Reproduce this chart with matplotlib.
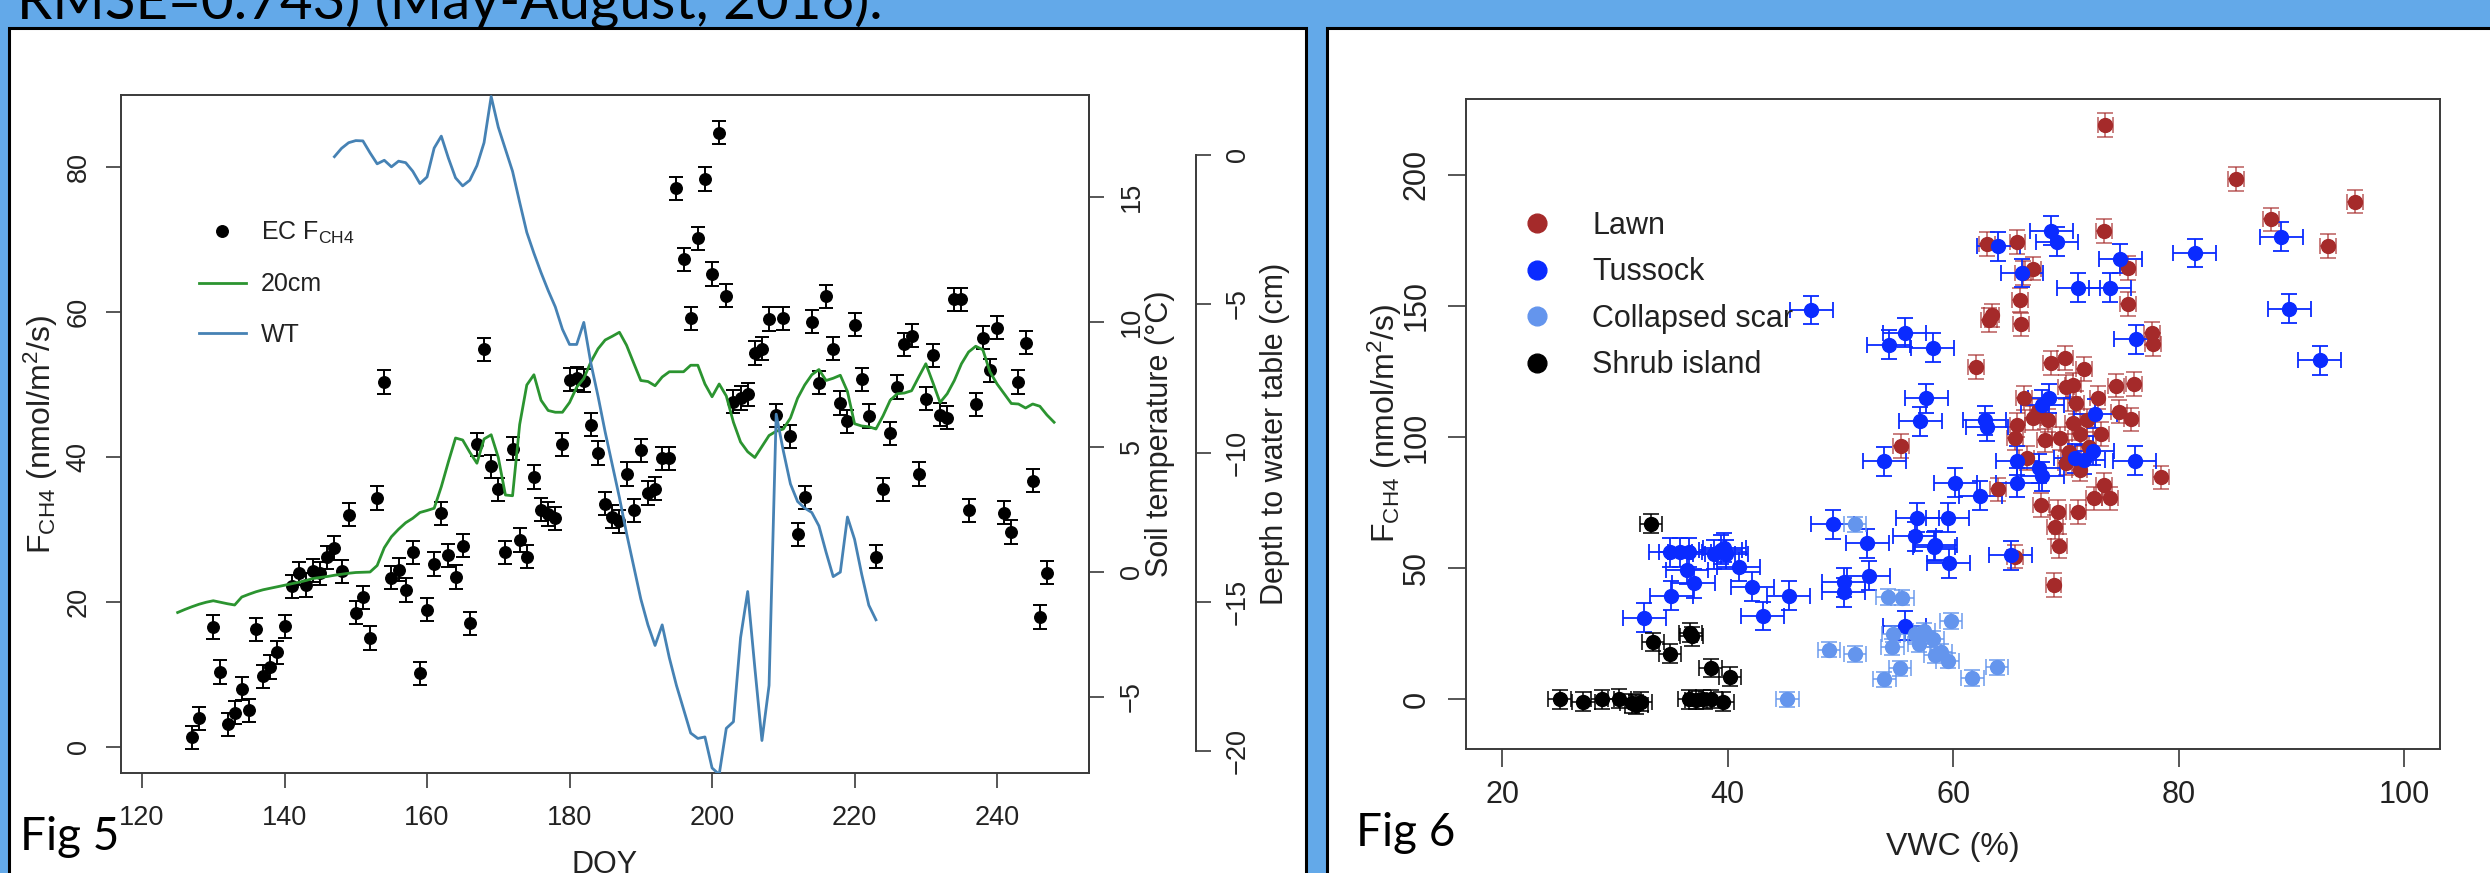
import matplotlib
matplotlib.use('Agg')
import matplotlib.pyplot as plt
from matplotlib.patches import Rectangle
from matplotlib.lines import Line2D

plt.rcParams['font.family'] = ['Liberation Sans', 'DejaVu Sans']
plt.rcParams['mathtext.fontset'] = 'custom'
plt.rcParams['mathtext.rm'] = 'Liberation Sans'
plt.rcParams['mathtext.it'] = 'Liberation Sans:italic'
plt.rcParams['mathtext.bf'] = 'Liberation Sans:bold'

# ---------------- Fig 5 data ----------------
doy = [127, 128, 130, 131, 132, 133, 134, 135, 136, 137, 138, 139, 140, 141, 142, 143,
       144, 145, 146, 147, 148, 149, 150, 151, 152, 153, 154, 155, 156, 157, 158, 159,
       160, 161, 162, 163, 164, 165, 166, 167, 168, 169, 170, 171, 172, 173, 174, 175,
       176, 177, 178, 179, 180, 181, 182, 183, 184, 185, 186, 187, 188, 189, 190, 191,
       192, 193, 194, 195, 196, 197, 198, 199, 200, 201, 202, 203, 204, 205, 206, 207,
       208, 209, 210, 211, 212, 213, 214, 215, 216, 217, 218, 219, 220, 221, 222, 223,
       224, 225, 226, 227, 228, 229, 230, 231, 232, 233, 234, 235, 236, 237, 238, 239,
       240, 241, 242, 243, 244, 245, 246, 247]
fch4 = [1.3, 3.9, 16.5, 10.3, 3.1, 4.7, 8.0, 5.0, 16.2, 9.7, 11.0, 13.0, 16.6, 22.1, 23.9, 22.3,
        24.3, 23.9, 26.1, 27.4, 24.2, 32.0, 18.5, 20.6, 15.0, 34.3, 50.3, 23.3, 24.4, 21.6, 26.8, 10.1,
        18.9, 25.2, 32.2, 26.4, 23.4, 27.7, 17.0, 41.7, 54.8, 38.7, 35.5, 26.8, 41.1, 28.5, 26.2, 37.2,
        32.7, 32.1, 31.5, 41.7, 50.6, 50.8, 50.5, 44.4, 40.5, 33.5, 31.7, 31.1, 37.6, 32.6, 40.9, 35.0,
        35.6, 39.8, 39.8, 77.0, 67.2, 59.1, 70.1, 78.3, 65.2, 84.7, 62.2, 47.6, 48.1, 48.6, 54.3, 54.9,
        59.0, 45.7, 59.1, 42.8, 29.3, 34.4, 58.6, 50.2, 62.1, 54.9, 47.4, 44.9, 58.2, 50.7, 45.6, 26.2,
        35.5, 43.2, 49.6, 55.5, 56.7, 37.6, 48.0, 54.0, 45.8, 45.4, 61.7, 61.7, 32.6, 47.2, 56.4, 51.9,
        57.8, 32.3, 29.6, 50.3, 55.7, 36.7, 17.9, 24.0]
fch4_err = 1.6

temp_doy = list(range(125, 249))
temp20 = [-1.63, -1.51, -1.40, -1.30, -1.22, -1.16, -1.22, -1.28, -1.33, -1.01, -0.90, -0.80,
          -0.72, -0.66, -0.60, -0.54, -0.48, -0.42, -0.35, -0.27, -0.23, -0.19, -0.14, -0.10,
          -0.06, -0.03, -0.02, -0.01, 0.25, 0.96, 1.40, 1.70, 1.96, 2.14, 2.37, 2.45,
          2.54, 3.40, 4.40, 5.35, 5.27, 4.78, 4.34, 5.31, 5.48, 4.57, 3.07, 3.04,
          5.89, 7.47, 7.88, 6.86, 6.45, 6.38, 6.38, 6.77, 7.38, 7.73, 8.40, 8.92,
          9.27, 9.42, 9.58, 9.06, 8.35, 7.65, 7.61, 7.44, 7.79, 8.00, 8.00, 8.00,
          8.26, 8.26, 7.51, 7.00, 7.51, 7.03, 5.98, 5.19, 4.80, 4.57, 5.01, 5.45,
          5.62, 5.71, 6.15, 6.94, 7.47, 7.88, 8.09, 7.65, 7.74, 7.86, 7.21, 5.92,
          5.83, 5.80, 5.71, 6.24, 6.86, 7.12, 7.15, 7.24, 7.79, 8.32, 7.56, 6.77,
          7.12, 7.65, 8.32, 8.79, 9.02, 8.88, 8.00, 7.51, 7.12, 6.73, 6.71, 6.55,
          6.71, 6.62, 6.27, 5.98]

wt_doy = list(range(147, 224))
wt = [-0.06, 0.22, 0.41, 0.48, 0.47, 0.07, -0.30, -0.18, -0.40, -0.21, -0.26, -0.55,
      -0.96, -0.74, 0.23, 0.63, -0.11, -0.77, -1.04, -0.85, -0.36, 0.41, 1.96, 0.93,
      0.19, -0.55, -1.59, -2.60, -3.30, -3.95, -4.55, -5.10, -5.85, -6.36, -6.36, -5.62,
      -7.00, -8.10, -9.30, -10.40, -11.50, -12.70, -13.80, -14.90, -15.77, -16.46, -15.77, -16.87,
      -17.80, -18.60, -19.40, -19.58, -19.53, -20.57, -20.79, -19.24, -19.02, -16.20, -14.65, -17.20,
      -19.65, -17.80, -8.70, -9.93, -11.04, -11.63, -11.85, -12.00, -12.45, -13.33, -14.15, -14.00,
      -12.15, -12.90, -14.07, -15.11, -15.60]

x5_ticks = [120, 140, 160, 180, 200, 220, 240]
f5_ticks = [0, 20, 40, 60, 80]
t_ticks = [-5, 0, 5, 10, 15]
wt_ticks = [-20, -15, -10, -5, 0]

# ---------------- Fig 6 data ----------------
lawn_vwc = [55.4, 63.0, 65.7, 73.4, 67.1, 66.2, 75.5, 75.5, 65.9, 63.4, 63.2, 66.0, 77.6, 77.7,
            62.0, 68.7, 69.9, 71.6, 70.6, 74.4, 76.0, 66.3, 74.7, 75.8, 65.7, 68.4, 70.6, 71.9,
            69.5, 65.5, 68.1, 71.2, 73.1, 70.3, 64.0, 71.2, 73.4, 73.9, 72.5, 67.8, 69.3, 71.1,
            69.0, 69.4, 65.5, 68.9, 78.4, 67.1, 70.0, 70.9, 73.5, 85.1, 88.2, 95.6, 93.2, 72.0,
            70.0, 66.5, 67.5, 72.8]
lawn_f = [96.5, 173.5, 174.4, 178.6, 164.2, 162.5, 164.5, 150.6, 152.3, 146.3, 144.6, 142.9, 139.5, 135.3,
          126.7, 128.1, 130.1, 125.9, 119.9, 119.6, 120.3, 114.8, 109.7, 106.7, 104.6, 106.3, 105.5, 106.3,
          99.5, 99.5, 98.7, 101.2, 101.2, 94.4, 80.0, 87.6, 81.7, 76.6, 76.6, 74.0, 71.5, 71.5,
          65.8, 58.4, 54.4, 43.7, 84.6, 107.2, 119.1, 113.1, 219.0, 198.2, 182.9, 189.7, 172.7, 96.0,
          90.0, 92.0, 110.0, 115.0]

tus_vwc = [32.6, 35.0, 34.9, 35.8, 36.6, 36.4, 37.0, 38.8, 39.4, 39.9, 39.7, 41.0, 42.2, 43.1,
           45.4, 47.4, 49.3, 50.3, 50.3, 52.4, 52.5, 53.9, 54.3, 55.7, 58.2, 57.6, 57.1, 56.8,
           56.6, 58.3, 55.7, 64.0, 66.1, 68.7, 69.2, 71.1, 73.9, 74.8, 81.4, 89.1, 89.8, 92.5,
           76.2, 68.5, 67.9, 72.6, 62.8, 63.0, 65.7, 67.6, 67.9, 70.8, 71.6, 72.4, 65.7, 76.1,
           60.2, 62.4, 59.5, 58.4, 59.6, 65.1]
tus_f = [31.1, 39.5, 56.1, 56.1, 56.1, 49.3, 44.2, 55.3, 57.0, 55.3, 57.8, 50.5, 43.0, 31.8,
         39.5, 148.4, 66.7, 44.6, 40.8, 59.5, 47.1, 90.7, 135.2, 139.8, 134.1, 114.8, 106.0, 69.2,
         62.1, 58.2, 28.1, 172.7, 162.5, 178.6, 174.4, 156.9, 156.9, 167.9, 170.1, 176.4, 148.9, 129.3,
         137.3, 114.8, 112.3, 108.9, 106.3, 103.8, 91.0, 88.0, 85.1, 91.9, 91.4, 94.8, 82.5, 91.0,
         82.5, 77.7, 69.2, 58.7, 51.9, 54.9]

scar_vwc = [45.3, 49.0, 51.3, 51.3, 53.9, 54.2, 55.5, 54.6, 54.7, 55.3, 56.6, 57.4, 58.2, 58.9,
            58.4, 59.5, 59.8, 61.7, 63.9, 57.0]
scar_f = [0.0, 19.0, 17.3, 66.7, 7.6, 39.1, 38.8, 19.9, 25.0, 11.8, 25.0, 26.0, 23.0, 18.2,
          17.0, 14.8, 29.8, 8.3, 12.2, 21.0]

shrub_vwc = [25.1, 27.2, 28.9, 30.4, 31.5, 31.9, 32.3, 33.2, 33.4, 34.9, 36.7, 36.8, 36.6, 37.2,
             37.8, 38.5, 38.5, 39.6, 40.2]
shrub_f = [0.0, -0.8, 0.0, 0.3, -1.5, -2.0, -0.8, 67.0, 22.0, 17.5, 25.5, 24.0, 0.0, -0.3,
           0.0, 12.0, 0.2, -0.8, 8.7]

groups6 = ['Lawn', 'Tussock', 'Collapsed scar', 'Shrub island']
x6_ticks = [20, 40, 60, 80, 100]
f6_ticks = [0, 50, 100, 150, 200]

# ---------------- styling ----------------
BG = '#63A9E9'
AXC = '#3a3a3a'
GREEN = '#2B9430'
WTBLUE = '#4682B4'
C_LAWN = '#A52A2A'
C_TUS = '#0A2BFF'
C_SCAR = '#6495ED'
C_SHRUB = '#000000'

W, H = 2490, 873
fig = plt.figure(figsize=(W / 100, H / 100), dpi=100, facecolor=BG)


def rect(x0, y0, x1, y1):
    return [x0 / W, 1 - y1 / H, (x1 - x0) / W, (y1 - y0) / H]


# white panels
fig.patches.append(Rectangle((9 / W, -0.2), (1306 - 9) / W, 1.2 - 28 / H,
                             transform=fig.transFigure, facecolor='white',
                             edgecolor='black', linewidth=2.2, zorder=-5))
fig.patches.append(Rectangle((1327 / W, -0.2), 1.0, 1.2 - 28 / H,
                             transform=fig.transFigure, facecolor='white',
                             edgecolor='black', linewidth=2.2, zorder=-5))

fig.text(17 / W, 1 - 19 / H, 'RMSE=0.743) (May-August, 2016).', fontsize=40.7,
         family=['Lato', 'DejaVu Sans'], va='baseline', ha='left', color='black')
fig.text(20 / W, 1 - 850 / H, 'Fig 5', fontsize=33, family=['Lato', 'DejaVu Sans'],
         va='baseline', ha='left')
fig.text(1356 / W, 1 - 846 / H, 'Fig 6', fontsize=33, family=['Lato', 'DejaVu Sans'],
         va='baseline', ha='left')

TL = 19.5   # tick label size fig 5
LL = 22     # axis label size fig 5

# ---------------- Fig 5 ----------------
ax1 = fig.add_axes(rect(120.5, 95, 1089, 773))
ax1.set_facecolor('white')
ax1.set_xlim(116.98, 252.9)
ax1.set_ylim(-3.63, 89.89)
ax1.errorbar(doy, fch4, yerr=fch4_err, fmt='o', color='black', ms=8.3,
             elinewidth=1.4, capsize=4.8, capthick=1.4, zorder=3)
for s in ax1.spines.values():
    s.set_color(AXC)
    s.set_linewidth(1.4)
ax1.set_xticks(x5_ticks)
ax1.set_yticks(f5_ticks)
ax1.tick_params(axis='both', direction='out', length=10.8, width=1.2, color=AXC,
                labelsize=TL, labelcolor='#222222')
ax1.tick_params(axis='x', pad=12)
ax1.tick_params(axis='y', pad=10)
plt.setp(ax1.get_yticklabels(), rotation=90, va='center')
ax1.set_xlabel('DOY', fontsize=LL, color='#222222')
ax1.xaxis.set_label_coords(0.5, -0.1136)
ax1.set_ylabel(r'F$_{\mathrm{CH4}}$ (nmol/m$^2$/s)', fontsize=23, color='#222222', va='center')
ax1.yaxis.set_label_coords(-0.082, 0.5)

ax2 = ax1.twinx()
ax2.set_ylim(-8.05, 19.07)
ax2.plot(temp_doy, temp20, color=GREEN, lw=2.0, zorder=2)
for k, s in ax2.spines.items():
    s.set_visible(k == 'right')
ax2.spines['right'].set_color(AXC)
ax2.spines['right'].set_linewidth(1.4)
ax2.set_yticks(t_ticks)
ax2.tick_params(axis='y', direction='out', length=10.8, width=1.2, color=AXC,
                labelsize=TL, labelcolor='#222222', pad=10.5)
plt.setp(ax2.get_yticklabels(), rotation=90, va='center')
ax2.set_ylabel('Soil temperature (\u00b0C)', fontsize=LL, color='#222222', va='center')
ax2.yaxis.set_label_coords(1.073, 0.5)

ax3 = ax1.twinx()
ax3.set_ylim(-20.74, 2.01)
ax3.plot(wt_doy, wt, color=WTBLUE, lw=2.0, zorder=2)
for k, s in ax3.spines.items():
    s.set_visible(k == 'right')
ax3.spines['right'].set_position(('outward', 107 * 0.72))
ax3.spines['right'].set_bounds(-20, 0)
ax3.spines['right'].set_color(AXC)
ax3.spines['right'].set_linewidth(1.4)
ax3.set_yticks(wt_ticks)
ax3.tick_params(axis='y', direction='out', length=10.8, width=1.2, color=AXC,
                labelsize=TL, labelcolor='#222222', pad=10)
plt.setp(ax3.get_yticklabels(), rotation=90, va='center')
ax3.set_ylabel('Depth to water table (cm)', fontsize=LL, color='#222222', va='center')
ax3.yaxis.set_label_coords(1.192, 0.5)

h5 = [Line2D([], [], ls='none', marker='o', color='black', ms=8.3),
      Line2D([], [], color=GREEN, lw=2.0),
      Line2D([], [], color=WTBLUE, lw=2.0)]
ax3.legend(h5, [r'EC F$_{\mathrm{CH4}}$', '20cm', 'WT'], loc='upper left',
           bbox_to_anchor=(0.081, 0.8156), frameon=False, fontsize=18,
           borderpad=0, borderaxespad=0, handlelength=1.88, handletextpad=0.6,
           labelspacing=1.05, labelcolor='#222222')

# ---------------- Fig 6 ----------------
TL6 = 22
LL6 = 23
ax6 = fig.add_axes(rect(1465.7, 99, 2440, 748.5))
ax6.set_facecolor('white')
ax6.set_xlim(16.78, 103.16)
ax6.set_ylim(-18.7, 228.8)

specs = [(lawn_vwc, lawn_f, C_LAWN, 0.7, 4.5, 0.65),
         (tus_vwc, tus_f, C_TUS, 1.9, 5.5, 1.0),
         (scar_vwc, scar_f, C_SCAR, 1.0, 3.0, 0.8),
         (shrub_vwc, shrub_f, C_SHRUB, 1.0, 3.5, 0.85)]
for (xv, yv, c, xe, ye, ea) in specs:
    _, caps, bars = ax6.errorbar(xv, yv, xerr=xe, yerr=ye, fmt='o', ms=10, color=c,
                                 mec=c, mfc=c, ecolor=c, elinewidth=1.3,
                                 capsize=5.5, capthick=1.3, zorder=3)
    for a in list(caps) + list(bars):
        a.set_alpha(ea)

for s in ax6.spines.values():
    s.set_color(AXC)
    s.set_linewidth(1.4)
ax6.set_xticks(x6_ticks)
ax6.set_yticks(f6_ticks)
ax6.tick_params(axis='both', direction='out', length=13, width=1.2, color=AXC,
                labelsize=TL6, labelcolor='#222222')
ax6.tick_params(axis='x', pad=10)
ax6.tick_params(axis='y', pad=11.5)
plt.setp(ax6.get_yticklabels(), rotation=90, va='center')
ax6.set_xlabel('VWC (%)', fontsize=LL6, color='#222222')
ax6.xaxis.set_label_coords(0.5, -0.1286)
ax6.set_ylabel(r'F$_{\mathrm{CH4}}$ (nmol/m$^2$/s)', fontsize=LL6, color='#222222', va='center')
ax6.yaxis.set_label_coords(-0.0828, 0.5)

h6 = [Line2D([], [], ls='none', marker='o', color=c, ms=13.5)
      for c in (C_LAWN, C_TUS, C_SCAR, C_SHRUB)]
ax6.legend(h6, groups6, loc='upper left', bbox_to_anchor=(0.0575, 0.8276),
           frameon=False, fontsize=22, borderpad=0, borderaxespad=0,
           handlelength=1.0, handletextpad=1.3, labelspacing=0.54,
           labelcolor='#222222')

fig.savefig('out.png', dpi=100, facecolor=BG)
